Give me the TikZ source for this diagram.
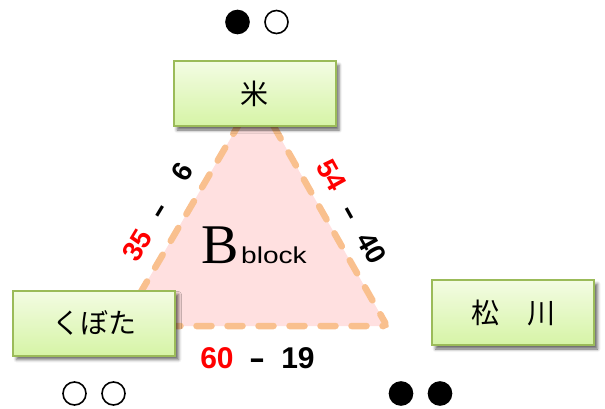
\documentclass[tikz,border=0pt]{standalone}
\usepackage{fontspec}
\usepackage{graphicx}
\usetikzlibrary{shadows.blur}
\newfontfamily\jpfont{Noto Sans CJK JP}
\newfontfamily\labfont{Liberation Sans}
\newfontfamily\bfont{Liberation Serif}
\definecolor{boxtop}{HTML}{F3FCE3}
\definecolor{boxbot}{HTML}{D6F4A6}
\definecolor{boxline}{HTML}{9BBB59}
\definecolor{triline}{HTML}{F9C08E}
\definecolor{trifill}{HTML}{FFE0E0}
\definecolor{labred}{HTML}{FF0000}
\tikzset{
  namebox/.style={draw=boxline, line width=2pt, top color=boxtop, bottom color=boxbot,
    minimum width=162pt, minimum height=65pt, inner sep=0pt,
    font=\jpfont\fontsize{28}{28}\selectfont,
    blur shadow={shadow xshift=3.5pt, shadow yshift=-4pt, shadow blur radius=3pt, shadow opacity=60}},
  dot/.style={circle, draw=black, line width=1.6pt, minimum size=23pt, inner sep=0pt},
  fulldot/.style={dot, fill=black},
  emptydot/.style={dot, fill=white},
  num/.style={font=\labfont\bfseries\fontsize{30}{30}\selectfont, inner sep=0pt, text height=21pt, text depth=0pt},
  numr/.style={num, font=\labfont\bfseries\fontsize{28}{28}\selectfont, text height=20pt},
}
\begin{document}
\begin{tikzpicture}[x=1pt, y=-1pt]
\useasboundingbox (0,0) rectangle (605,409);
% triangle
\coordinate (apex) at (256,95);
\coordinate (bl) at (121,326);
\coordinate (br) at (387,326);
\path[fill=trifill, rounded corners=4pt] (apex) -- (br) -- (bl) -- cycle;
\draw[triline, line width=6.5pt, line cap=round, dash pattern=on 15pt off 16pt, rounded corners=4pt] (apex) -- (br) -- (bl) -- cycle;
% Bblock
\node[anchor=base, inner sep=0pt, font=\bfont\fontsize{56}{56}\selectfont] (bigb) at (220,263) {B};
\node[anchor=base west, inner sep=0pt, font=\labfont\fontsize{23}{23}\selectfont] (blk) at (241,263) {\scalebox{1.22}[1]{block}};
% boxes
\node[namebox] (kome) at (254.5,93.5) {米};
\node[namebox] (kubota) at (94,323) {くぼた};
\node[namebox] (matsu) at (513,312.5) {松　川};
% dots
\node[fulldot] (d1) at (237.5,22) {};
\node[emptydot] (d2) at (276.5,22) {};
\node[emptydot] (d3) at (74.5,393.5) {};
\node[emptydot] (d4) at (113.5,393.5) {};
\node[fulldot] (d5) at (401,393.5) {};
\node[fulldot] (d6) at (440,393.5) {};
% bottom labels
\node[num, text=labred] (b60) at (217,358) {60};
\node[num] (bdash) at (257,358) {\scalebox{1.6}[1]{-}};
\node[num] (b19) at (298,358) {19};
% left labels
\node[numr, text=labred, rotate=59] (l35) at (137,245) {35};
\node[numr, rotate=59] (ldash) at (158,210) {\scalebox{1.6}[1]{-}};
\node[numr, rotate=59] (l6) at (182,172) {6};
% right labels
\node[numr, text=labred, rotate=-61] (r54) at (332,175) {54};
\node[numr, rotate=-61] (rdash) at (352,212) {\scalebox{1.6}[1]{-}};
\node[numr, rotate=-61] (r40) at (372,248) {40};
\end{tikzpicture}
\end{document}
